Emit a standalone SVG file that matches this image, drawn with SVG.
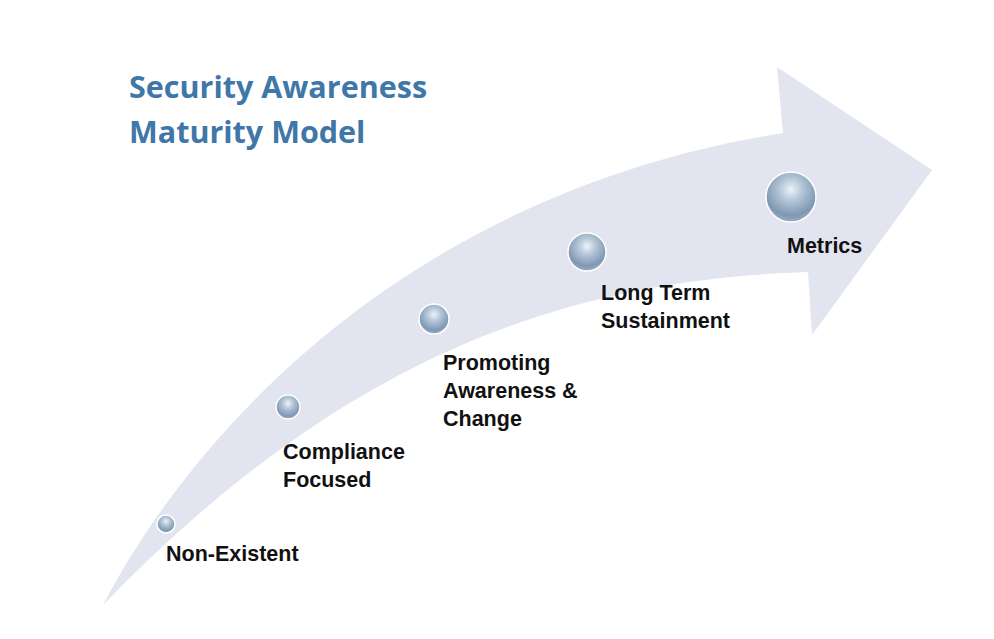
<svg xmlns="http://www.w3.org/2000/svg" width="994" height="639" viewBox="0 0 994 639">
<defs>
<radialGradient id="sph" cx="0.5" cy="0.35" r="0.65">
<stop offset="0" stop-color="#eef3f8"/>
<stop offset="0.35" stop-color="#b4c6d8"/>
<stop offset="0.8" stop-color="#7f98b2"/>
<stop offset="1" stop-color="#98adc2"/>
</radialGradient>
<style>
.lbl{font-family:"Liberation Sans",Arial,sans-serif;font-weight:bold;font-size:21.5px;fill:#111}
.ttl{font-family:"Open Sans","Liberation Sans",sans-serif;font-weight:bold;font-size:30.5px;fill:#3f77a8}
.s{fill:url(#sph);stroke:#fff;stroke-width:1.5}
</style>
</defs>
<rect width="994" height="639" fill="#fff"/>
<g id="arrow">
<path d="M103,605 C200,420 420,190 783,133 L777,67 L932,170 L812,335 L808,272 C560,280 340,360 103,605 Z" fill="#e2e5ef"/>
</g>
<g id="title"><text class="ttl" x="129" y="98">Security Awareness</text><text class="ttl" x="129" y="143">Maturity Model</text></g>
<g id="n1"><circle class="s" cx="166" cy="524" r="9"/><text class="lbl" x="166" y="561">Non-Existent</text></g>
<g id="n2"><circle class="s" cx="288" cy="407" r="12"/><text class="lbl" x="283" y="459">Compliance</text><text class="lbl" x="283" y="487">Focused</text></g>
<g id="n3"><circle class="s" cx="434" cy="319" r="15"/><text class="lbl" x="443" y="370">Promoting</text><text class="lbl" x="443" y="398">Awareness &amp;</text><text class="lbl" x="443" y="426">Change</text></g>
<g id="n4"><circle class="s" cx="587" cy="252" r="19"/><text class="lbl" x="601" y="300">Long Term</text><text class="lbl" x="601" y="328">Sustainment</text></g>
<g id="n5"><circle class="s" cx="791" cy="197" r="25"/><text class="lbl" x="787" y="253">Metrics</text></g>
<g id="connectors"/>
</svg>
